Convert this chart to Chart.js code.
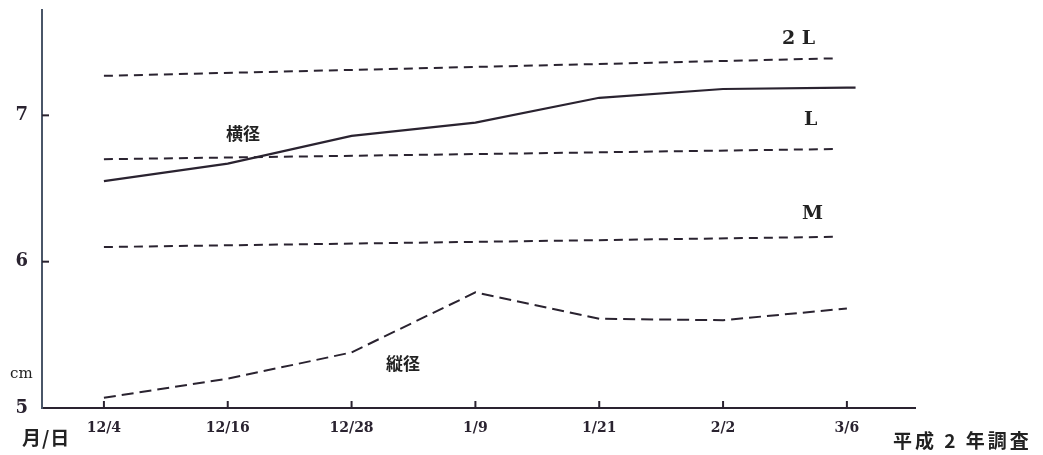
<!DOCTYPE html>
<html lang="ja">
<head>
<meta charset="UTF-8">
<title>横径・縦径の推移</title>
<script src="https://cdn.jsdelivr.net/npm/chart.js"></script>
<style>
  body { margin: 0; background: #fff; }
  #wrap { position: relative; width: 1043px; height: 455px; }
  .lbl { position: absolute; color: #222; font-weight: bold; white-space: nowrap; }
  .serif { font-family: "DejaVu Serif", "Liberation Serif", serif; }
  .jp { font-family: "Noto Sans CJK JP", sans-serif; }
</style>
</head>
<body>
<div id="wrap">
  <canvas id="chart" width="1043" height="455"></canvas>
  <div class="lbl serif" style="left:782px;top:26px;font-size:19px;">2 L</div>
  <div class="lbl serif" style="left:804px;top:107px;font-size:19px;">L</div>
  <div class="lbl serif" style="left:802px;top:201px;font-size:19px;">M</div>
  <div class="lbl jp" style="left:226px;top:120px;font-size:17px;">横径</div>
  <div class="lbl jp" style="left:386px;top:350px;font-size:17px;">縦径</div>
  <div class="lbl serif" style="left:10px;top:364px;font-size:15px;font-weight:normal;">cm</div>
  <div class="lbl jp" style="left:22px;top:423px;font-size:19px;letter-spacing:1px;">月/日</div>
  <div class="lbl jp" style="left:893px;top:426px;font-size:19px;letter-spacing:3px;">平成 2 年調査</div>
</div>
<script>
// survey dates (month/day)
const dates = ['12/4', '12/16', '12/28', '1/9', '1/21', '2/2', '3/6'];

// 横径 (width) and 縦径 (height), cm
const widthCm = [6.55, 6.67, 6.86, 6.95, 7.12, 7.18, 7.19];
const heightCm = [5.07, 5.20, 5.38, 5.79, 5.61, 5.60, 5.68];

// size class reference lines: [start, end] in cm
const line2L = [7.27, 7.39];
const lineL = [6.70, 6.77];
const lineM = [6.10, 6.17];
const refStartX = 0, refEndX = 5.92;

const ink = '#2a2330';

function pts(arr) { return arr.map((v, i) => ({ x: i, y: v })); }
function ref(arr) { return [{ x: refStartX, y: arr[0] }, { x: refEndX, y: arr[1] }]; }

// 横径 runs a little past the last date in the figure
const widthPts = pts(widthCm);
widthPts.push({ x: 6.07, y: widthCm[widthCm.length - 1] });

const innerTicks = {
  id: 'innerTicks',
  afterDraw(chart) {
    const { ctx, scales: { x, y }, chartArea } = chart;
    ctx.save();
    ctx.strokeStyle = ink;
    ctx.lineWidth = 2;
    dates.forEach((d, i) => {
      const px = x.getPixelForValue(i);
      ctx.beginPath();
      ctx.moveTo(px, chartArea.bottom);
      ctx.lineTo(px, chartArea.bottom - 7);
      ctx.stroke();
    });
    [6, 7].forEach(v => {
      const py = y.getPixelForValue(v);
      ctx.beginPath();
      ctx.moveTo(chartArea.left, py);
      ctx.lineTo(chartArea.left + 7, py);
      ctx.stroke();
    });
    ctx.restore();
  }
};

function noPad(s) { s.paddingTop = 0; s.paddingBottom = 0; s.paddingLeft = 0; s.paddingRight = 0; }

new Chart(document.getElementById('chart'), {
  type: 'line',
  data: {
    datasets: [
      { label: '2L', data: ref(line2L), borderDash: [9, 6] },
      { label: 'L', data: ref(lineL), borderDash: [9, 6] },
      { label: 'M', data: ref(lineM), borderDash: [9, 6] },
      { label: '横径', data: widthPts, borderDash: [], borderWidth: 2.2 },
      { label: '縦径', data: pts(heightCm), borderDash: [12, 6] }
    ].map(ds => Object.assign({
      borderColor: ink, borderWidth: 2, pointRadius: 0, tension: 0, fill: false
    }, ds))
  },
  plugins: [innerTicks],
  options: {
    responsive: false,
    animation: false,
    layout: { padding: { top: 10, right: 128, left: 0, bottom: 0 } },
    plugins: { legend: { display: false }, tooltip: { enabled: false } },
    scales: {
      x: {
        type: 'linear', min: -0.5, max: 6.55,
        afterBuildTicks: s => { s.ticks = dates.map((d, i) => ({ value: i })); },
        afterFit: s => { s.height = 47; noPad(s); },
        ticks: {
          callback: v => dates[v],
          color: ink, padding: 12, maxRotation: 0, autoSkip: false,
          font: { family: '"DejaVu Serif", serif', size: 14, weight: 'bold' }
        },
        grid: { display: false, drawTicks: false },
        border: { color: ink, width: 2 }
      },
      y: {
        min: 5, max: 7.72,
        afterBuildTicks: s => { s.ticks = [5, 6, 7].map(v => ({ value: v })); },
        afterFit: s => { s.width = 42; noPad(s); },
        ticks: {
          color: ink, padding: 14,
          font: { family: '"DejaVu Serif", serif', size: 18, weight: 'bold' }
        },
        grid: { display: false, drawTicks: false },
        border: { color: '#4a5668', width: 2 }
      }
    }
  }
});
</script>
</body>
</html>
